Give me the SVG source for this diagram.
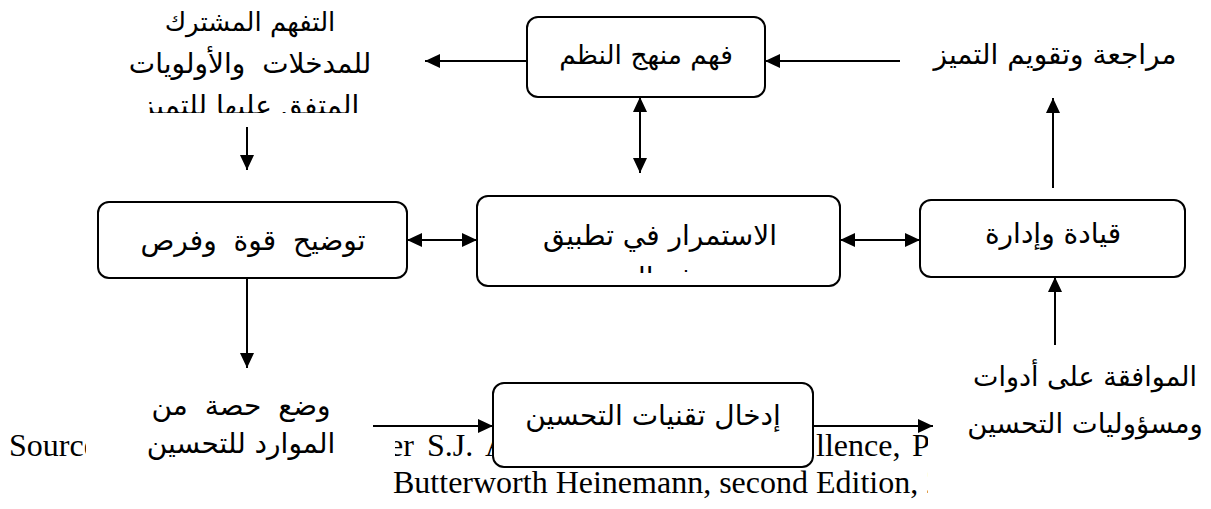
<svg xmlns="http://www.w3.org/2000/svg" width="1211" height="509" viewBox="0 0 1211 509">
<style>
.ar{font-family:"DejaVu Sans",sans-serif;font-size:28px;fill:#000;text-anchor:middle;direction:rtl}
.src{font-family:"Liberation Serif",serif;font-size:32px;fill:#000}
.box{fill:#fff;stroke:#000;stroke-width:2}
.cover{fill:#fff;stroke:none}
.ln{stroke:#000;stroke-width:2;fill:none}
</style>
<defs>
<marker id="ah" markerUnits="userSpaceOnUse" markerWidth="15" markerHeight="14" refX="15" refY="7" orient="auto-start-reverse"><path d="M0,0 L15,7 L0,14 z" fill="#000"/></marker>
<clipPath id="clipTL"><rect x="0" y="0" width="520" height="113"/></clipPath>
<clipPath id="clipMid"><rect x="477" y="196" width="363" height="77"/></clipPath>
</defs>
<rect width="1211" height="509" fill="#fff"/>
<g id="source">
<text class="src" x="9" y="456">Source</text>
<text class="src" x="389" y="456">er</text>
<text class="src" x="427" y="456">S.J.</text>
<text class="src" x="485" y="456">A</text>
<text class="src" x="816" y="456">llence,</text>
<text class="src" x="912" y="456">P</text>
<text class="src" x="393" y="493">Butterworth Heinemann, second Edition, 2</text>
</g>
<g id="n-understanding">
<g clip-path="url(#clipTL)">
<text class="ar" x="250" y="31" style="font-size:26px">التفهم المشترك</text>
<text class="ar" x="250" y="73" style="word-spacing:8px">للمدخلات والأولويات</text>
<text class="ar" x="250" y="115">المتفق عليها للتميز</text>
</g>
</g>
<g id="n-systems">
<rect class="box" x="527" y="17" width="238" height="80" rx="11"/>
<text class="ar" x="646" y="64" style="font-size:26.5px">فهم منهج النظم</text>
</g>
<g id="n-review">
<text class="ar" x="1055" y="64">مراجعة وتقويم التميز</text>
</g>
<g id="n-strengths">
<rect class="box" x="98" y="202" width="309" height="76" rx="11"/>
<text class="ar" x="253" y="250" style="word-spacing:8px">توضيح قوة وفرص</text>
</g>
<g id="n-continuity">
<rect class="box" x="477" y="196" width="363" height="90" rx="11"/>
<text class="ar" x="660" y="245">الاستمرار في تطبيق</text>
<g clip-path="url(#clipMid)"><text class="ar" x="660" y="287">نموذج التميز</text></g>
</g>
<g id="n-leadership">
<rect class="box" x="920" y="200" width="265" height="77" rx="11"/>
<text class="ar" x="1053" y="243">قيادة وإدارة</text>
</g>
<g id="n-resources">
<rect class="cover" x="86" y="374" width="309" height="96"/>
<text class="ar" x="241" y="415" style="word-spacing:8px">وضع حصة من</text>
<text class="ar" x="241" y="453">الموارد للتحسين</text>
</g>
<g id="n-techniques">
<rect class="box" x="493" y="383" width="320" height="84" rx="11"/>
<text class="ar" x="653" y="425">إدخال تقنيات التحسين</text>
</g>
<g id="n-tools">
<rect class="cover" x="928" y="346" width="283" height="163"/>
<text class="ar" x="1085" y="386" style="font-size:27px">الموافقة على أدوات</text>
<text class="ar" x="1085" y="433" style="font-size:27.5px">ومسؤوليات التحسين</text>
</g>
<g id="connectors">
<line class="ln" x1="900" y1="61" x2="765" y2="61" marker-end="url(#ah)"/>
<line class="ln" x1="527" y1="61" x2="425" y2="61" marker-end="url(#ah)"/>
<line class="ln" x1="640" y1="97" x2="640" y2="173" marker-start="url(#ah)" marker-end="url(#ah)"/>
<line class="ln" x1="247" y1="127" x2="247" y2="170" marker-end="url(#ah)"/>
<line class="ln" x1="1053" y1="188" x2="1053" y2="98" marker-end="url(#ah)"/>
<line class="ln" x1="407" y1="240" x2="477" y2="240" marker-start="url(#ah)" marker-end="url(#ah)"/>
<line class="ln" x1="840" y1="240" x2="920" y2="240" marker-start="url(#ah)" marker-end="url(#ah)"/>
<line class="ln" x1="247" y1="278" x2="247" y2="368" marker-end="url(#ah)"/>
<line class="ln" x1="1055" y1="345" x2="1055" y2="277" marker-end="url(#ah)"/>
<line class="ln" x1="373" y1="426" x2="493" y2="426" marker-end="url(#ah)"/>
<line class="ln" x1="813" y1="426" x2="933" y2="426" marker-end="url(#ah)"/>
</g>
</svg>
